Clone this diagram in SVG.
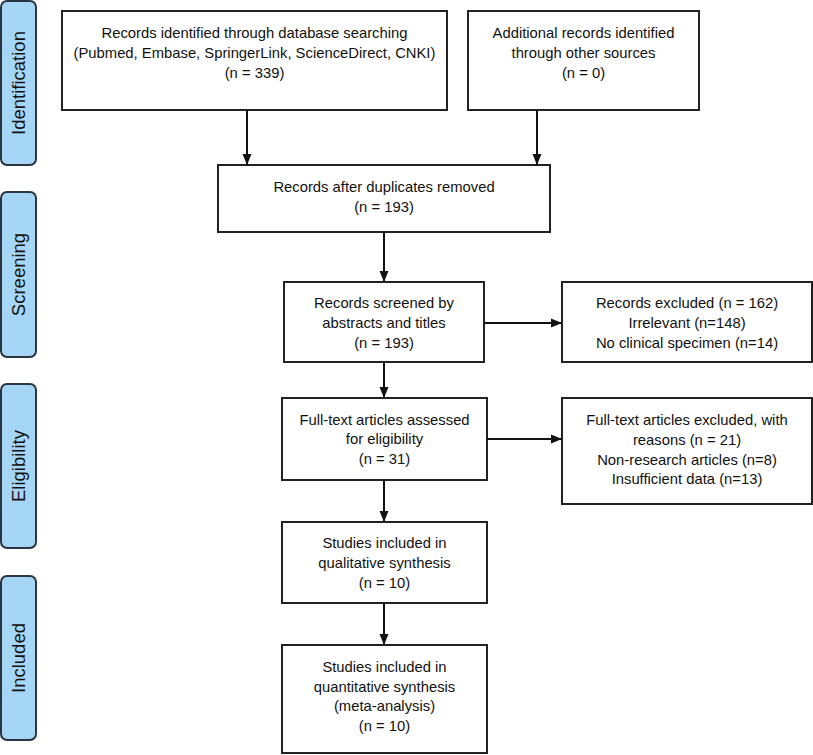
<svg xmlns="http://www.w3.org/2000/svg" width="813" height="755" viewBox="0 0 813 755">
<style>
.box{fill:#fff;stroke:#222;stroke-width:2}
.bar{fill:#a6d6f6;stroke:#2b3440;stroke-width:2}
.t{font-family:"Liberation Sans",Arial,sans-serif;font-size:14.8px;fill:#111;text-anchor:middle}
.s{font-family:"Liberation Sans",Arial,sans-serif;font-size:18.5px;fill:#111;text-anchor:middle}
.c{stroke:#111;stroke-width:2;fill:none}
</style>
<defs>
<marker id="ah" markerWidth="12" markerHeight="10" refX="11" refY="5" orient="auto" markerUnits="userSpaceOnUse">
<path d="M0,0.5 L11,5 L0,9.5 Z" fill="#111"/>
</marker>
</defs>
<g id="phase-identification"><rect class="bar" x="1" y="1" width="35" height="164" rx="6"/><text class="s" transform="translate(24.5,83) rotate(-90)">Identification</text></g>
<g id="phase-screening"><rect class="bar" x="1" y="192" width="35" height="165" rx="6"/><text class="s" transform="translate(24.5,274.5) rotate(-90)">Screening</text></g>
<g id="phase-eligibility"><rect class="bar" x="1" y="384" width="35" height="164" rx="6"/><text class="s" transform="translate(24.5,466) rotate(-90)">Eligibility</text></g>
<g id="phase-included"><rect class="bar" x="1" y="576" width="35" height="164" rx="6"/><text class="s" transform="translate(24.5,658) rotate(-90)">Included</text></g>
<g id="n1"><rect class="box" x="62" y="11" width="385" height="99"/>
<text class="t" x="254.5" y="38">Records identified through database searching</text>
<text class="t" x="254.5" y="58">(Pubmed, Embase, SpringerLink, ScienceDirect, CNKI)</text>
<text class="t" x="254.5" y="78">(n = 339)</text></g>
<g id="n2"><rect class="box" x="468" y="11" width="231" height="99"/>
<text class="t" x="583.5" y="38">Additional records identified</text>
<text class="t" x="583.5" y="58">through other sources</text>
<text class="t" x="583.5" y="78">(n = 0)</text></g>
<g id="n3"><rect class="box" x="218" y="165" width="332" height="67"/>
<text class="t" x="384" y="192">Records after duplicates removed</text>
<text class="t" x="384" y="212">(n = 193)</text></g>
<g id="n4"><rect class="box" x="284" y="282" width="200" height="80"/>
<text class="t" x="384" y="308">Records screened by</text>
<text class="t" x="384" y="328">abstracts and titles</text>
<text class="t" x="384" y="348">(n = 193)</text></g>
<g id="n5"><rect class="box" x="562" y="282" width="250" height="80"/>
<text class="t" x="687" y="308">Records excluded (n = 162)</text>
<text class="t" x="687" y="328">Irrelevant (n=148)</text>
<text class="t" x="687" y="348">No clinical specimen (n=14)</text></g>
<g id="n6"><rect class="box" x="282" y="398" width="205" height="82"/>
<text class="t" x="384.5" y="425">Full-text articles assessed</text>
<text class="t" x="384.5" y="444">for eligibility</text>
<text class="t" x="384.5" y="464">(n = 31)</text></g>
<g id="n7"><rect class="box" x="562" y="398" width="250" height="106"/>
<text class="t" x="687" y="425">Full-text articles excluded, with</text>
<text class="t" x="687" y="445">reasons (n = 21)</text>
<text class="t" x="687" y="465">Non-research articles (n=8)</text>
<text class="t" x="687" y="484">Insufficient data (n=13)</text></g>
<g id="n8"><rect class="box" x="282" y="522" width="205" height="81"/>
<text class="t" x="384.5" y="548">Studies included in</text>
<text class="t" x="384.5" y="568">qualitative synthesis</text>
<text class="t" x="384.5" y="588">(n = 10)</text></g>
<g id="n9"><rect class="box" x="282" y="645" width="205" height="108"/>
<text class="t" x="384.5" y="672">Studies included in</text>
<text class="t" x="384.5" y="692">quantitative synthesis</text>
<text class="t" x="384.5" y="711">(meta-analysis)</text>
<text class="t" x="384.5" y="731">(n = 10)</text></g>
<g id="connectors">
<line class="c" x1="247" y1="110" x2="247" y2="165" marker-end="url(#ah)"/>
<line class="c" x1="537" y1="110" x2="537" y2="165" marker-end="url(#ah)"/>
<line class="c" x1="384" y1="232" x2="384" y2="282" marker-end="url(#ah)"/>
<line class="c" x1="484" y1="323" x2="562" y2="323" marker-end="url(#ah)"/>
<line class="c" x1="384" y1="362" x2="384" y2="398" marker-end="url(#ah)"/>
<line class="c" x1="487" y1="439" x2="562" y2="439" marker-end="url(#ah)"/>
<line class="c" x1="384" y1="480" x2="384" y2="522" marker-end="url(#ah)"/>
<line class="c" x1="384" y1="603" x2="384" y2="645" marker-end="url(#ah)"/>
</g>
</svg>
